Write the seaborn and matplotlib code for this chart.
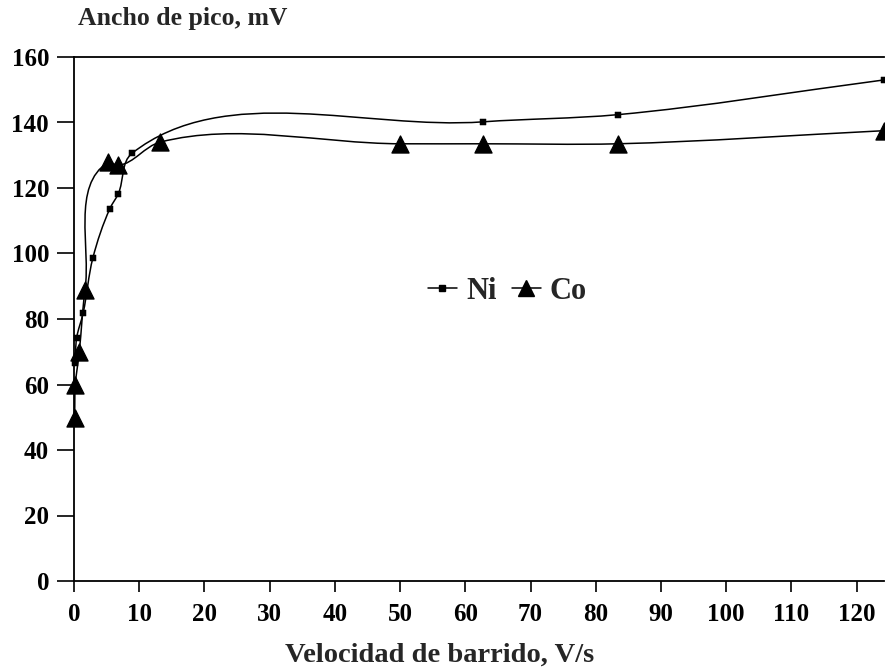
import numpy as np
import matplotlib
matplotlib.use("Agg")
import matplotlib.pyplot as plt
import seaborn as sns
from matplotlib.path import Path
from matplotlib.patches import PathPatch
from matplotlib.lines import Line2D

# ---- data ----
ni_x = [0.2, 0.4, 1.4, 2.9, 5.5, 6.8, 8.9, 62.7, 83.4, 124.2]
ni_y = [66.5, 74.2, 81.8, 98.7, 113.7, 118.3, 130.6, 140.2, 142.4, 153.0]
co_x = [0.1, 0.2, 0.8, 1.7, 5.2, 6.8, 13.2, 50.0, 62.7, 83.4, 124.2]
co_y = [49.7, 59.8, 69.8, 89.0, 127.8, 126.9, 134.0, 133.5, 133.5, 133.5, 137.5]
series_names = ["Ni", "Co"]
x_ticks = [0, 10, 20, 30, 40, 50, 60, 70, 80, 90, 100, 110, 120]
y_ticks = [0, 20, 40, 60, 80, 100, 120, 140, 160]
x_label = "Velocidad de barrido, V/s"
y_label = "Ancho de pico, mV"

sns.set_theme(style="white")
plt.rcParams["font.family"] = ["Liberation Serif", "DejaVu Serif"]
plt.rcParams["font.weight"] = "bold"

W, H = 885, 670
fig = plt.figure(figsize=(W / 100, H / 100), dpi=100)
ax = fig.add_axes([74 / W, 1 - 581 / H, 810 / W, 524 / H])
ax.set_xlim(0, 124.2)
ax.set_ylim(0, 160)


def smooth_path(ax, xs, ys):
    pts = ax.transData.transform(np.column_stack([xs, ys]))
    n = len(pts)
    tans = []
    for i in range(n):
        if i == 0:
            d = pts[1] - pts[0]
        elif i == n - 1:
            d = pts[-1] - pts[-2]
        else:
            a = pts[i] - pts[i - 1]
            b = pts[i + 1] - pts[i]
            d = a / np.linalg.norm(a) + b / np.linalg.norm(b)
        tans.append(d / np.linalg.norm(d))
    verts = [pts[0]]
    codes = [Path.MOVETO]
    for i in range(n - 1):
        L = np.linalg.norm(pts[i + 1] - pts[i]) / 3
        verts += [pts[i] + tans[i] * L, pts[i + 1] - tans[i + 1] * L, pts[i + 1]]
        codes += [Path.CURVE4] * 3
    verts = ax.transData.inverted().transform(np.array(verts))
    return Path(verts, codes)


for xs, ys in [(ni_x, ni_y), (co_x, co_y)]:
    patch = PathPatch(smooth_path(ax, xs, ys), facecolor="none", edgecolor="black",
                      lw=1.1, transform=ax.transData, clip_on=False, zorder=2)
    ax.add_patch(patch)

sns.scatterplot(x=ni_x, y=ni_y, marker="s", s=20, color="black", edgecolor="black",
                ax=ax, clip_on=False, zorder=3, legend=False)
sns.scatterplot(x=co_x, y=co_y, marker="^", s=150, color="black", edgecolor="black",
                ax=ax, clip_on=False, zorder=3, legend=False)

ax.set_xticks(x_ticks)
ax.set_yticks(y_ticks)
ax.set_xticklabels([str(t) for t in x_ticks], fontsize=18, fontweight="bold")
ax.set_yticklabels([str(t) for t in y_ticks], fontsize=18, fontweight="bold")
ax.tick_params(axis="y", direction="out", length=12, width=1.2, pad=6, left=True, colors="black")
ax.tick_params(axis="x", direction="out", length=8, width=1.2, pad=8, bottom=True, colors="black")

for side in ["left", "bottom", "top"]:
    ax.spines[side].set_visible(True)
    ax.spines[side].set_color("black")
    ax.spines[side].set_linewidth(1.3)
ax.spines["right"].set_visible(False)
ax.grid(False)

handles = [
    Line2D([], [], color="black", lw=1.1, marker="s", markersize=4),
    Line2D([], [], color="black", lw=1.1, marker="^", markersize=11),
]
ax.legend(handles, series_names, loc="center", bbox_to_anchor=(0.535, 0.553), ncol=2,
          frameon=False, handlelength=0.95, handletextpad=0.3, columnspacing=0.5,
          prop={"family": "Liberation Serif", "weight": "bold", "size": 22})

fig.text(78 / W, 1 - 19 / H, y_label, ha="left", va="center", fontsize=18.5, fontweight="bold")
fig.text(440 / W, 1 - 655 / H, x_label, ha="center", va="center", fontsize=20.5, fontweight="bold")

fig.savefig("out.png", dpi=100, facecolor="white")
